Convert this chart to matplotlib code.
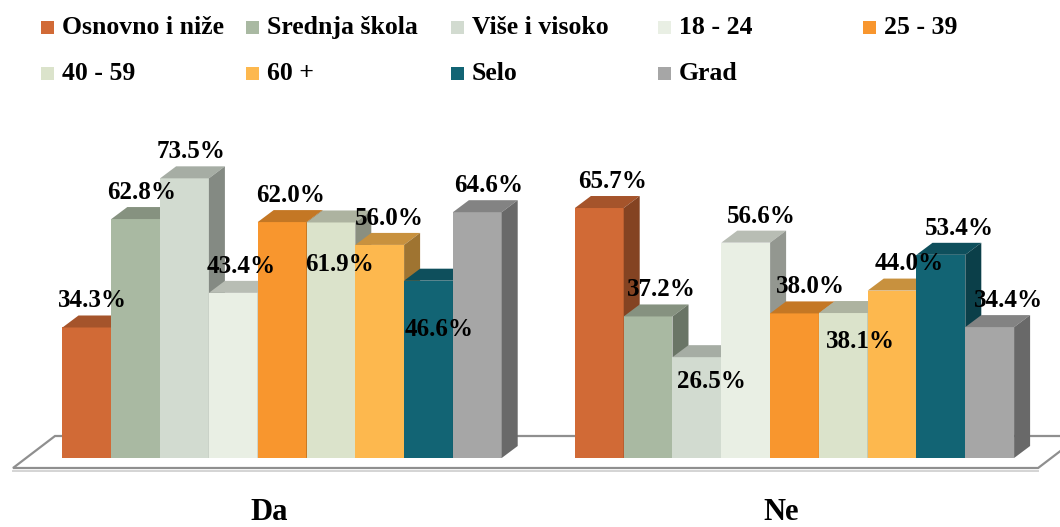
"""3D-style clustered bar chart: Da / Ne by demographic group."""
import matplotlib
matplotlib.use("Agg")
import matplotlib.pyplot as plt
import numpy as np
from matplotlib.colors import to_rgb
from matplotlib.patches import Polygon, Rectangle

series = ["Osnovno i niže", "Srednja škola", "Više i visoko", "18 - 24",
          "25 - 39", "40 - 59", "60 +", "Selo", "Grad"]
categories = ["Da", "Ne"]
da_values = [34.3, 62.8, 73.5, 43.4, 62.0, 61.9, 56.0, 46.6, 64.6]
ne_values = [65.7, 37.2, 26.5, 56.6, 38.0, 38.1, 44.0, 53.4, 34.4]
colors = ["#D16A36", "#A9B9A2", "#D2DBD0", "#E9EFE4", "#F8962E",
          "#DBE3CB", "#FDB84E", "#126474", "#A6A6A6"]

# label placement (offset from bar top, in % units) - some labels sit inside bars
da_label_dy = [7, 7, 7, 7, 7, -11.1, 7, -12.7, 7]
ne_label_dy = [7, 7, -6.4, 7, 7, -7.6, 7, 7, 7]

W, H, DPI = 1060, 527, 100
# pixel layout
X0_PX = 62.5       # left edge of first bar
BAR_PX = 48.8      # bar width
BASE_PX = 458.0    # bar bottom (from top)
PCT_PX = 3.805     # px per percent
GROUP_STEP = 10.5  # bar units between group starts
DEPTH_X, DEPTH_Y = 16 / BAR_PX, 12 / PCT_PX


def shade(c, f):
    r, g, b = to_rgb(c)
    return (r * f, g * f, b * f)


def main():
    fig = plt.figure(figsize=(W / DPI, H / DPI), dpi=DPI)
    ax = fig.add_axes([0, 0, 1, 1])
    ax.set_xlim(-X0_PX / BAR_PX - 0.5, (W - X0_PX) / BAR_PX - 0.5)
    ax.set_ylim((BASE_PX - H) / PCT_PX, BASE_PX / PCT_PX)
    ax.axis("off")

    n = len(series)
    # floor
    fl, fr = -0.5 - 49.5 / BAR_PX, GROUP_STEP + n - 0.5 + 24 / BAR_PX
    fy = -10 / PCT_PX
    fdx, fdy = 42 / BAR_PX, 32 / PCT_PX
    floor = Polygon([(fl, fy), (fr, fy), (fr + fdx, fy + fdy), (fl + fdx, fy + fdy)],
                    closed=True, facecolor="white", edgecolor="#8f8f8f", lw=1.6, zorder=1)
    ax.add_patch(floor)
    ax.plot([fl, fr], [fy - 0.7, fy - 0.7], color="#d4d4d4", lw=1.4, zorder=1)

    groups = [da_values, ne_values]
    label_dys = [da_label_dy, ne_label_dy]
    z = 2
    for g, vals in enumerate(groups):
        base = g * GROUP_STEP
        for i, v in enumerate(vals):
            x = base + i
            c = colors[i]
            ax.bar(x, v, width=1.0, color=c, linewidth=0, zorder=z)
            top = Polygon([(x - 0.5, v), (x + 0.5, v), (x + 0.5 + DEPTH_X, v + DEPTH_Y),
                           (x - 0.5 + DEPTH_X, v + DEPTH_Y)], closed=True,
                          facecolor=shade(c, 0.79), edgecolor="none", zorder=z)
            side = Polygon([(x + 0.5, 0), (x + 0.5 + DEPTH_X, DEPTH_Y),
                            (x + 0.5 + DEPTH_X, v + DEPTH_Y), (x + 0.5, v)], closed=True,
                           facecolor=shade(c, 0.63), edgecolor="none", zorder=z)
            ax.add_patch(top)
            ax.add_patch(side)
            z += 0.01
        for i, v in enumerate(vals):
            x = base + i
            px = X0_PX + BAR_PX * (x + 0.5)
            shift = (4 + 0.015 * px) / BAR_PX
            ax.text(x + shift, v + label_dys[g][i], f"{v:.1f}%", ha="center",
                    va="center", fontsize=18, fontweight="bold",
                    family="Liberation Serif", zorder=10)
        ax.text(base + (n - 1) / 2 - 13 / BAR_PX, (BASE_PX - 513) / PCT_PX,
                categories[g], ha="center", va="center", fontsize=22,
                fontweight="bold", family="Liberation Serif")

    # legend, laid out like the original (5 columns, 2 rows)
    col_x = [41, 246, 451, 658, 863]
    row_y = [27.5, 73.5]
    for k, name in enumerate(series):
        cx, cy = col_x[k % 5], row_y[k // 5]
        fig.patches.append(Rectangle((cx / W, 1 - (cy + 6.5) / H), 13 / W, 13 / H,
                                     transform=fig.transFigure, facecolor=colors[k],
                                     edgecolor="none"))
        fig.text((cx + 21) / W, 1 - cy / H, name, ha="left", va="center",
                 fontsize=18.5, fontweight="bold", family="Liberation Serif")

    fig.savefig("out.png", dpi=DPI)


if __name__ == "__main__":
    main()
